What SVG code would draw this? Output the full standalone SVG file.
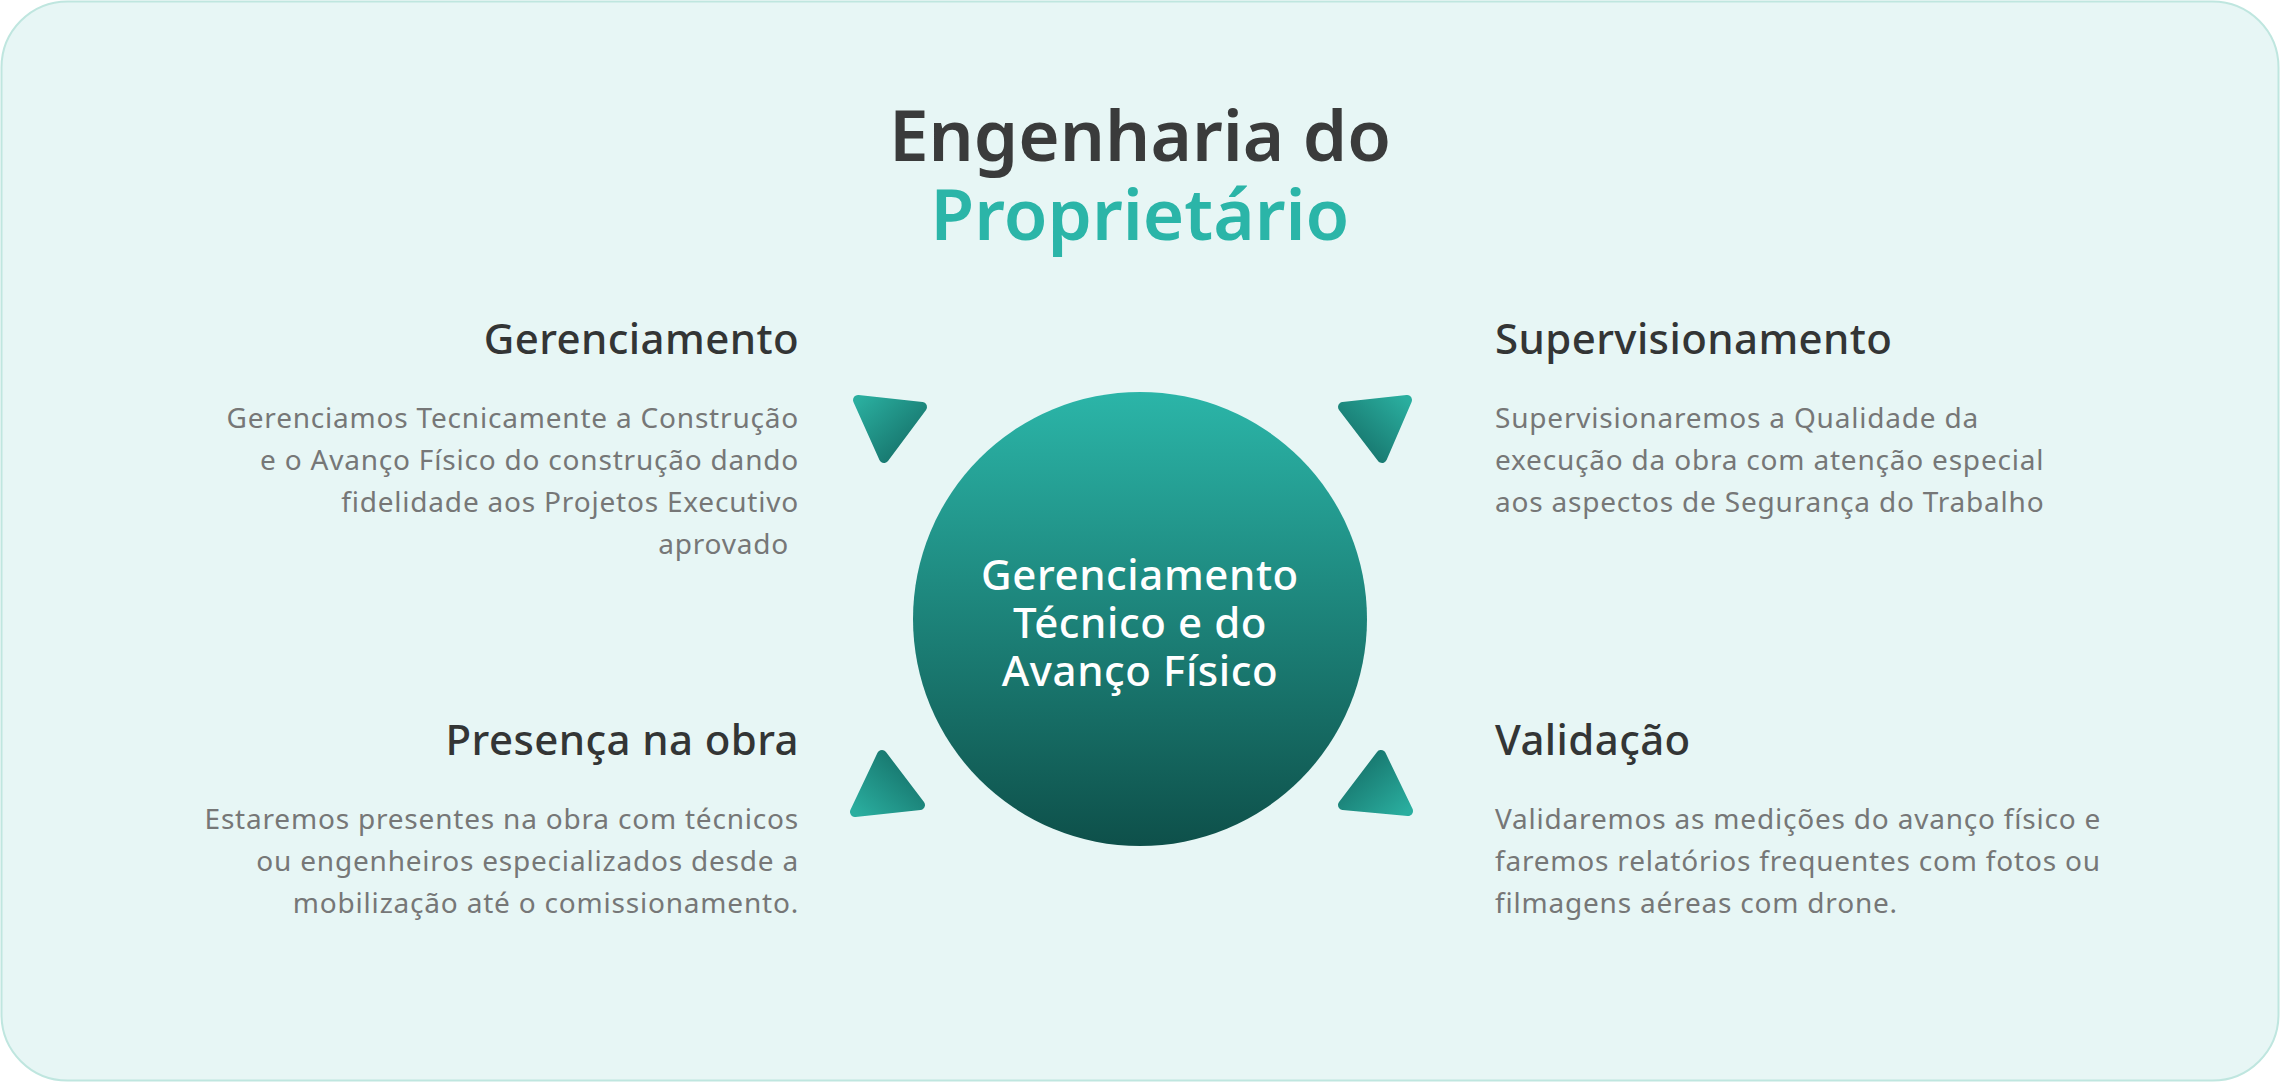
<svg xmlns="http://www.w3.org/2000/svg" width="2280" height="1082" viewBox="0 0 2280 1082">
<style>
.title{font-family:"Noto Sans","DejaVu Sans",sans-serif;font-weight:600;font-size:71px;text-anchor:middle}
.head{font-family:"Noto Sans","DejaVu Sans",sans-serif;font-weight:500;font-size:42px;letter-spacing:0.4px;fill:#333535}
.body{font-family:"Noto Sans","DejaVu Sans",sans-serif;font-weight:400;font-size:28px;letter-spacing:0.8px;fill:#767777}
.ctr{font-family:"Noto Sans","DejaVu Sans",sans-serif;font-weight:500;font-size:42px;letter-spacing:0.6px;fill:#ffffff;text-anchor:middle}
.l{text-anchor:end}
.r{text-anchor:start}
.tri{stroke-width:10;stroke-linejoin:round}
</style>
<defs>
<linearGradient id="gc" x1="0" y1="0" x2="0" y2="1">
<stop offset="0" stop-color="#2bb5a8"/>
<stop offset="1" stop-color="#0e504a"/>
</linearGradient>
<linearGradient id="gTL" x1="0" y1="0" x2="1" y2="1">
<stop offset="0" stop-color="#2aae9f"/>
<stop offset="1" stop-color="#136a63"/>
</linearGradient>
<linearGradient id="gTR" x1="1" y1="0" x2="0" y2="1">
<stop offset="0" stop-color="#2aae9f"/>
<stop offset="1" stop-color="#136a63"/>
</linearGradient>
<linearGradient id="gBL" x1="0" y1="1" x2="1" y2="0">
<stop offset="0" stop-color="#2aae9f"/>
<stop offset="1" stop-color="#136a63"/>
</linearGradient>
<linearGradient id="gBR" x1="1" y1="1" x2="0" y2="0">
<stop offset="0" stop-color="#2aae9f"/>
<stop offset="1" stop-color="#136a63"/>
</linearGradient>
</defs>
<rect x="1.5" y="1.5" width="2277" height="1079" rx="66" fill="#e7f6f5" stroke="#bfe6df" stroke-width="2"/>
<g id="title">
<text class="title" x="1140" y="161" fill="#3a3b3b">Engenharia do</text>
<text class="title" x="1140" y="240" fill="#2bb5a8">Proprietário</text>
</g>
<g id="connectors">
<path id="tri-tl" class="tri" d="M858,400 L922,407 L884,458 Z" fill="url(#gTL)" stroke="url(#gTL)"/>
<path id="tri-tr" class="tri" d="M1343,407 L1407,400 L1382,458 Z" fill="url(#gTR)" stroke="url(#gTR)"/>
<path id="tri-bl" class="tri" d="M882,755 L920,805 L855,812 Z" fill="url(#gBL)" stroke="url(#gBL)"/>
<path id="tri-br" class="tri" d="M1381,755 L1408,811 L1343,805 Z" fill="url(#gBR)" stroke="url(#gBR)"/>
</g>
<g id="center">
<circle cx="1140" cy="619" r="227" fill="url(#gc)"/>
<text class="ctr" x="1140" y="590">Gerenciamento</text>
<text class="ctr" x="1140" y="638">Técnico e do</text>
<text class="ctr" x="1140" y="686">Avanço Físico</text>
</g>
<g id="gerenciamento">
<text class="head l" x="799" y="354">Gerenciamento</text>
<text class="body l" x="799" y="428">Gerenciamos Tecnicamente a Construção</text>
<text class="body l" x="799" y="470">e o Avanço Físico do construção dando</text>
<text class="body l" x="799" y="512">fidelidade aos Projetos Executivo</text>
<text class="body l" x="789" y="554">aprovado</text>
</g>
<g id="supervisionamento">
<text class="head r" x="1495" y="354">Supervisionamento</text>
<text class="body r" x="1495" y="428">Supervisionaremos a Qualidade da</text>
<text class="body r" x="1495" y="470">execução da obra com atenção especial</text>
<text class="body r" x="1495" y="512">aos aspectos de Segurança do Trabalho</text>
</g>
<g id="presenca">
<text class="head l" x="799" y="755">Presença na obra</text>
<text class="body l" x="799" y="829">Estaremos presentes na obra com técnicos</text>
<text class="body l" x="799" y="871">ou engenheiros especializados desde a</text>
<text class="body l" x="799" y="913">mobilização até o comissionamento.</text>
</g>
<g id="validacao">
<text class="head r" x="1495" y="755">Validação</text>
<text class="body r" x="1495" y="829">Validaremos as medições do avanço físico e</text>
<text class="body r" x="1495" y="871">faremos relatórios frequentes com fotos ou</text>
<text class="body r" x="1495" y="913">filmagens aéreas com drone.</text>
</g>
</svg>
